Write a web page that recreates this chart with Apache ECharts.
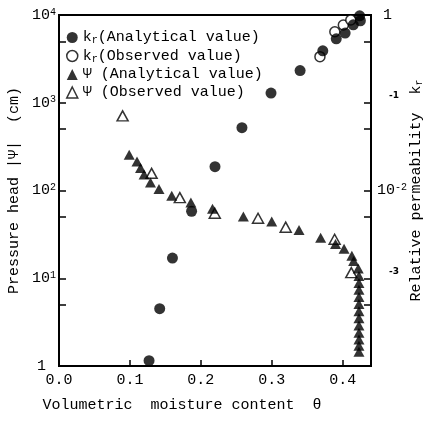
<!DOCTYPE html>
<html><head><meta charset="utf-8">
<script src="https://cdn.jsdelivr.net/npm/echarts@6/dist/echarts.min.js"></script>
<style>html,body{margin:0;padding:0;background:#fff}#c{width:427px;height:426px}</style>
</head><body><div id="c"></div>
<script>
// kr (analytical) : theta, relative permeability
const krAnaTheta = [0.127, 0.142, 0.160, 0.187, 0.220, 0.258, 0.299, 0.340, 0.372, 0.391, 0.4035, 0.415, 0.424, 0.425];
const krAnaValue = [1.15e-4, 4.5e-4, 1.7e-3, 5.8e-3, 1.87e-2, 5.2e-2, 0.129, 0.233, 0.391, 0.535, 0.622, 0.773, 0.98, 0.86];
// kr (observed)
const krObsTheta = [0.368, 0.389, 0.401, 0.4115];
const krObsValue = [0.335, 0.645, 0.769, 0.877];
// psi (analytical) : theta, |psi| cm
const psiAnaTheta = [0.099, 0.110, 0.115, 0.120, 0.129, 0.141, 0.159, 0.186, 0.2165, 0.260, 0.300, 0.3385, 0.369, 0.390, 0.402, 0.413, 0.4155, 0.422,
  0.423, 0.423, 0.423, 0.423, 0.423, 0.423, 0.423, 0.423, 0.423, 0.423, 0.423, 0.423];
const psiAnaValue = [255, 214, 180, 152, 123, 104, 87, 73, 62, 50.4, 44.3, 35.5, 29.0, 24.6, 21.7, 18.0, 15.7, 12.9,
  10.6, 8.8, 7.4, 6.1, 5.1, 4.2, 3.5, 2.9, 2.4, 2.0, 1.7, 1.45];
// psi (observed)
const psiObsTheta = [0.0897, 0.1306, 0.1704, 0.2197, 0.2807, 0.3197, 0.3887, 0.4122];
const psiObsValue = [709, 157, 83, 55.1, 48.3, 38.2, 27.8, 11.6];
// axes
const xTickValues = [0, 0.1, 0.2, 0.3, 0.4];
const psiLabelValues = [1, 10, 100, 1000, 10000];
const psiTickValues = [5, 10, 50, 100, 500, 1000, 5000];
const krLabelValues = [1, 0.1, 0.01, 0.001];
const krTickValues = [0.0005, 0.001, 0.005, 0.01, 0.05, 0.1, 0.5];
const seriesNames = ['kr(Analytical value)', 'kr(Observed value)', 'Ψ(Analytical value)', 'Ψ(Observed value)'];

const FONT = 'Liberation Mono';
const pairs = (xs, ys) => xs.map((x, i) => [x, ys[i]]);
const base = {fontFamily: FONT, fontSize: 15, color: '#000', lineHeight: 16};
const sub = {fontFamily: FONT, fontSize: 10, color: '#000', lineHeight: 16, verticalAlign: 'bottom'};
const sup = {fontFamily: FONT, fontSize: 10, color: '#000', verticalAlign: 'top', lineHeight: 10};

const legendFmt = {
  'kr(Analytical value)': '{b|k}{s|r}{b|(Analytical value)}',
  'kr(Observed value)': '{b|k}{s|r}{b|(Observed value)}',
  'Ψ(Analytical value)': '{b|Ψ (Analytical value)}',
  'Ψ(Observed value)': '{b|Ψ (Observed value)}'
};

const chart = echarts.init(document.getElementById('c'), null, {renderer: 'canvas'});
chart.setOption({
  animation: false,
  backgroundColor: '#fff',
  grid: {left: 59, right: 56, top: 15, bottom: 60, show: true, borderColor: '#000', borderWidth: 2,
    containLabel: false, outerBoundsMode: 'none'},
  legend: {
    orient: 'vertical', left: 61, top: 25, itemWidth: 11, itemHeight: 11, itemGap: 3,
    data: [
      {name: seriesNames[0], icon: 'circle', itemStyle: {color: '#000'}},
      {name: seriesNames[1], icon: 'circle', itemStyle: {color: '#fff', borderColor: '#000', borderWidth: 1.5}},
      {name: seriesNames[2], icon: 'triangle', itemStyle: {color: '#000'}},
      {name: seriesNames[3], icon: 'triangle', itemStyle: {color: '#fff', borderColor: '#000', borderWidth: 1.5}}
    ],
    formatter: n => legendFmt[n],
    textStyle: {fontFamily: FONT, fontSize: 15, color: '#000', rich: {b: base, s: sub}}
  },
  xAxis: {
    type: 'value', min: 0, max: 0.44,
    name: 'Volumetric  moisture content  θ', nameLocation: 'middle', nameGap: 32, nameMoveOverlap: false,
    nameTextStyle: {fontFamily: FONT, fontSize: 15, color: '#000', padding: [0, 66, 0, 0]},
    axisLine: {show: true, onZero: false, lineStyle: {color: '#000', width: 2}},
    axisTick: {show: true, inside: true, length: 6, customValues: xTickValues, lineStyle: {color: '#000', width: 1.5}},
    axisLabel: {customValues: xTickValues, formatter: v => v.toFixed(1), fontFamily: FONT, fontSize: 15, color: '#000', margin: 7},
    splitLine: {show: false}
  },
  yAxis: [{
    type: 'log', logBase: 10, min: 1, max: 10000, position: 'left',
    name: '{b|Pressure head |Ψ|  (cm)}', nameLocation: 'middle', nameGap: 37, nameMoveOverlap: false,
    nameTextStyle: {fontFamily: FONT, fontSize: 15, color: '#000', rich: {b: base}},
    axisLine: {show: true, lineStyle: {color: '#000', width: 2}},
    axisTick: {show: true, inside: true, length: 7, customValues: psiTickValues, lineStyle: {color: '#000', width: 1.5}},
    axisLabel: {
      customValues: psiLabelValues, margin: 3,
      formatter: v => {
        const e = Math.round(Math.log10(v));
        return e === 0 ? '{one|1}' : '{b|10}{p|' + e + '}';
      },
      rich: {b: base, p: sup, one: Object.assign({}, base, {padding: [0, 10, 0, 0]})}
    },
    splitLine: {show: false}
  }, {
    type: 'log', logBase: 10, min: 1e-4, max: 1, position: 'right',
    name: '{b|Relative permeability  k}{s|r}', nameLocation: 'middle', nameGap: 37, nameMoveOverlap: false,
    nameTextStyle: {fontFamily: FONT, fontSize: 15, color: '#000', rich: {b: base, s: sub}},
    axisLine: {show: true, lineStyle: {color: '#000', width: 2}},
    axisTick: {show: true, inside: true, length: 7, customValues: krTickValues, lineStyle: {color: '#000', width: 1.5}},
    axisLabel: {
      customValues: krLabelValues, margin: 6,
      formatter: v => {
        const e = Math.round(Math.log10(v));
        if (e === 0) return '{one|1}';
        if (e === -2) return '{b|10}{p|-2}';
        return '{q|' + e + '}';
      },
      rich: {
        b: base, p: sup,
        one: Object.assign({}, base, {padding: [0, 0, 0, 6]}),
        q: {fontFamily: 'DejaVu Sans', fontWeight: 'bold', fontSize: 9, color: '#000', padding: [0, 0, 14, 12]}
      }
    },
    splitLine: {show: false}
  }],
  series: [{
    name: seriesNames[1], type: 'scatter', yAxisIndex: 1, z: 2,
    symbol: 'circle', symbolSize: 10,
    itemStyle: {color: '#fff', borderColor: '#000', borderWidth: 1.5},
    data: pairs(krObsTheta, krObsValue)
  }, {
    name: seriesNames[0], type: 'scatter', yAxisIndex: 1, z: 3,
    symbol: 'circle', symbolSize: 11, itemStyle: {color: '#000'},
    data: pairs(krAnaTheta, krAnaValue)
  }, {
    name: seriesNames[3], type: 'scatter', yAxisIndex: 0, z: 2,
    symbol: 'triangle', symbolSize: [11, 10],
    itemStyle: {color: '#fff', borderColor: '#000', borderWidth: 1.5},
    data: pairs(psiObsTheta, psiObsValue)
  }, {
    name: seriesNames[2], type: 'scatter', yAxisIndex: 0, z: 3,
    symbol: 'triangle', symbolSize: [11, 10], itemStyle: {color: '#000'},
    data: pairs(psiAnaTheta, psiAnaValue)
  }]
});
</script>
</body></html>
